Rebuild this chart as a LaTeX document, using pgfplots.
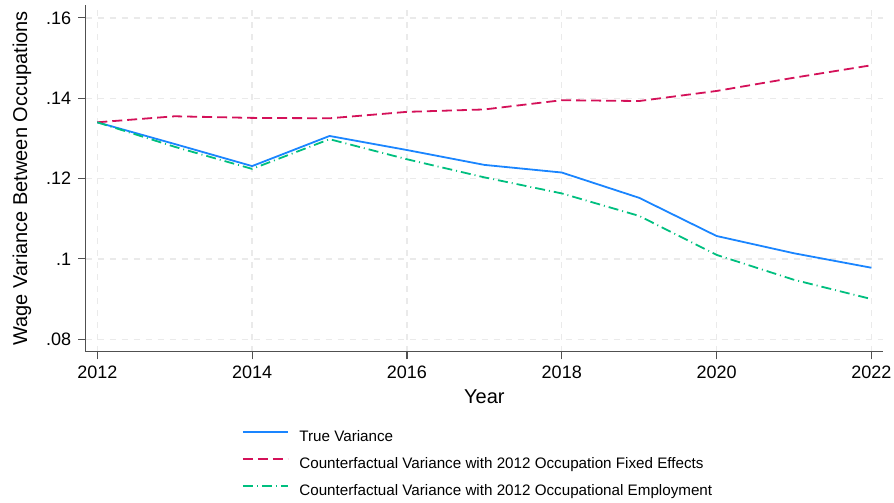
\documentclass[border=0pt]{standalone}
\usepackage{pgfplots}
\pgfplotsset{compat=1.18}
\usepackage{fontspec}
\setmainfont{Liberation Sans}
\definecolor{stblue}{RGB}{26,133,255}
\definecolor{stred}{RGB}{212,17,89}
\definecolor{stgreen}{RGB}{0,191,127}
\definecolor{gridc}{RGB}{234,234,234}
\definecolor{axc}{RGB}{80,80,80}
\begin{document}
\begin{tikzpicture}
\useasboundingbox (0,0) rectangle (447pt,251.5pt);
\begin{axis}[
  at={(42.85pt,75.65pt)}, anchor=south west,
  scale only axis, width=398.65pt, height=173.35pt,
  xmin=2011.85, xmax=2022.15, ymin=0.0769, ymax=0.1632,
  axis x line*=bottom, axis y line*=left,
  axis line style={-, axc, line width=0.6pt},
  tick align=outside, major tick length=3.8pt,
  tick style={axc, line width=0.6pt},
  xtick={2012,2014,2016,2018,2020,2022},
  xticklabels={2012,2014,2016,2018,2020,2022},
  ytick={0.08,0.10,0.12,0.14,0.16},
  yticklabels={.08,.1,.12,.14,.16},
  ticklabel style={font=\fontsize{9}{10}\selectfont},
  grid=major,
  major grid style={gridc, line width=0.7pt, dash pattern=on 3pt off 3pt},
  xlabel={Year}, ylabel={Wage Variance Between Occupations},
  label style={font=\fontsize{9}{10}\selectfont},
  every axis x label/.style={at={(axis description cs:0.5,-0.129)}, anchor=center},
  every axis y label/.style={at={(axis description cs:-0.0800,0.5)}, rotate=90, anchor=center},
  legend image code/.code={\draw[#1] (0pt,2.7pt) -- (22.5pt,2.7pt);},
  legend cell align=left,
  legend style={at={(axis description cs:0.196,-0.2279)}, anchor=north west,
    draw=none, fill=none, inner sep=0pt, outer sep=0pt,
    row sep=6.5pt, column sep=5.3pt,
    font=\fontsize{7.6}{9}\selectfont,
    nodes={inner sep=0pt, text height=5.5pt, text depth=1.5pt}},
]
\addplot[stblue, line width=0.9pt] coordinates {
(2012,0.1340) (2013,0.1286) (2014,0.1231) (2015,0.1306) (2016,0.1271) (2017,0.1234)
(2018,0.1215) (2019,0.1152) (2020,0.1057) (2021,0.1014) (2022,0.0978)};
\addlegendentry{True Variance}
\addplot[stred, line width=0.9pt, dash pattern=on 5pt off 2.5pt] coordinates {
(2012,0.1340) (2013,0.1355) (2014,0.1351) (2015,0.1350) (2016,0.1366) (2017,0.1372)
(2018,0.1395) (2019,0.1393) (2020,0.1418) (2021,0.1451) (2022,0.1482)};
\addlegendentry{Counterfactual Variance with 2012 Occupation Fixed Effects}
\addplot[stgreen, line width=0.9pt, dash pattern=on 5pt off 2pt on 0.5pt off 2pt] coordinates {
(2012,0.1340) (2013,0.1279) (2014,0.1224) (2015,0.1298) (2016,0.1248) (2017,0.1203)
(2018,0.1163) (2019,0.1107) (2020,0.1010) (2021,0.0948) (2022,0.0900)};
\addlegendentry{Counterfactual Variance with 2012 Occupational Employment}
\end{axis}
\end{tikzpicture}
\end{document}
